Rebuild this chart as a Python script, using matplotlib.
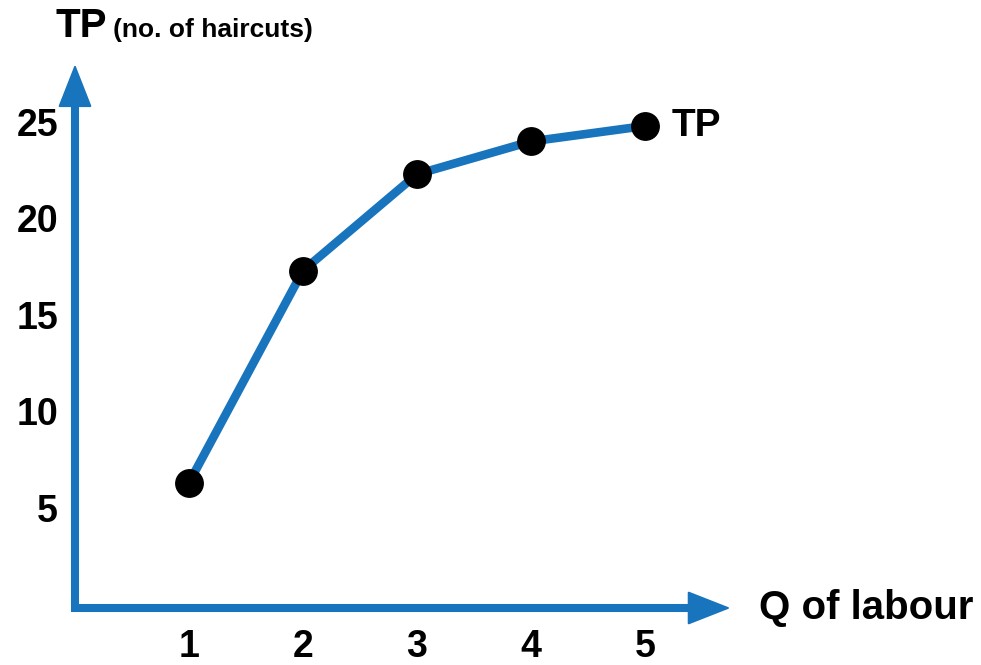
import matplotlib

matplotlib.use("Agg")
import matplotlib.pyplot as plt

# data
labour = [1, 2, 3, 4, 5]
total_product = [6.5, 17.5, 22.5, 24.2, 25.0]
y_ticks = [5, 10, 15, 20, 25]

BLUE = "#1874BC"
plt.rcParams["font.family"] = ["Liberation Sans", "DejaVu Sans"]
plt.rcParams["font.weight"] = "bold"

fig = plt.figure(figsize=(9.81, 6.65), dpi=100)
ax = fig.add_axes([0, 0, 1, 1])
# map pixels: x=0 -> px 75, 1 unit = 114 px; y=0 -> px 608, 1 unit = 19.28 px
ax.set_xlim(-75 / 114, (981 - 75) / 114)
ax.set_ylim((608 - 665) / 19.28, 608 / 19.28)
ax.axis("off")

# axes as arrows
x_tip, y_tip = 5.75, 28.2
ax.plot([0, 0, x_tip - 0.3], [y_tip - 2.0, 0, 0], color=BLUE, lw=5.8,
        solid_joinstyle="miter", solid_capstyle="butt", zorder=2)
head = dict(arrowstyle="-|>,head_length=28,head_width=11", color=BLUE,
            lw=1.5, mutation_scale=1, shrinkA=0, shrinkB=0)
ax.annotate("", xy=(0, y_tip), xytext=(0, y_tip - 2.3), arrowprops=head)
ax.annotate("", xy=(x_tip, 0), xytext=(x_tip - 0.4, 0), arrowprops=head)

# TP curve
ax.plot(labour, total_product, color=BLUE, lw=6.2, zorder=3)
ax.scatter(labour, total_product, s=390, color="black", zorder=4)

# tick labels
for v in y_ticks:
    ax.text(-0.15, v, str(v), ha="right", va="center", fontsize=27)
for q in labour:
    ax.text(q, -2.0, str(q), ha="center", va="center", fontsize=27)

ax.text(-0.17, 29.6, "TP", ha="left", va="baseline", fontsize=29)
ax.text(0.33, 29.6, "(no. of haircuts)", ha="left", va="baseline", fontsize=19)
ax.text(6.0, 0, "Q of labour", ha="left", va="center", fontsize=29)
ax.text(5.23, 25.0, "TP", ha="left", va="center", fontsize=28)

fig.savefig("out.png", dpi=100)
